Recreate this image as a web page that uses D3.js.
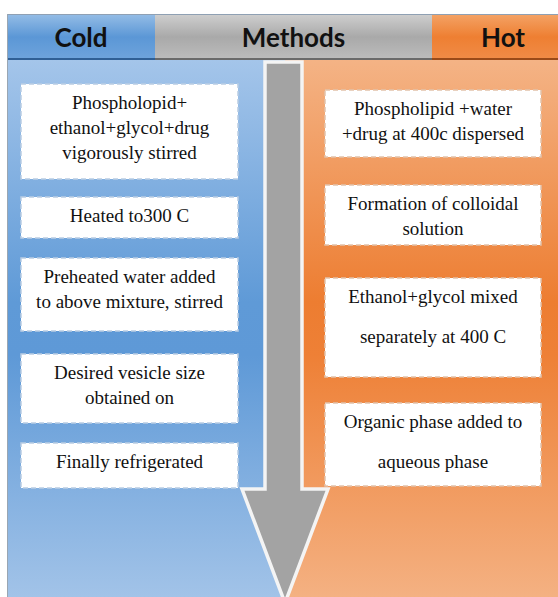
<!DOCTYPE html>
<html>
<head>
<meta charset="utf-8">
<script src="https://cdn.jsdelivr.net/npm/d3@7"></script>
<style>
  html, body { margin: 0; padding: 0; background: #fff; }
  svg { display: block; }
</style>
</head>
<body>
<div id="chart"></div>
<script>
// header labels
const headers = ["Cold", "Methods", "Hot"];

// steps of each method, one entry per box, lines split with "|"
const coldSteps = [
  "Phospholopid+|ethanol+glycol+drug|vigorously stirred",
  "Heated to300 C",
  "Preheated water added|to above mixture, stirred",
  "Desired vesicle size|obtained on",
  "Finally refrigerated"
];
const hotSteps = [
  "Phospholipid +water|+drug at 400c dispersed",
  "Formation of colloidal|solution",
  "Ethanol+glycol mixed|separately at 400 C",
  "Organic phase added to|aqueous phase"
];

// layout (pixels)
const W = 558, H = 597;
const headTop = 14, headBot = 60;
const headEdges = [8, 155, 432, 558];
const mid = 285;
const coldBoxes = [[84, 179], [197, 238], [258, 331], [354, 423], [443, 488]];
const hotBoxes = [[90, 157], [185, 245], [278, 377], [403, 486]];
const hotLineGap = [25, 25, 40, 40];
const serif = "'Liberation Serif', 'DejaVu Serif', serif";

let svg = d3.select("#chart").append("svg")
    .attr("width", W)
    .attr("height", H);

let defs = svg.append("defs");

const addGrad = (id, stops) => {
  let g = defs.append("linearGradient")
      .attr("id", id)
      .attr("x1", 0).attr("y1", 0).attr("x2", 0).attr("y2", 1);
  stops.forEach(s => g.append("stop").attr("offset", s[0]).attr("stop-color", s[1]));
};

addGrad("gBlue", [[0, "#a4c5ea"], [0.45, "#5f9ad7"], [0.55, "#5e99d7"], [1, "#a2c3e8"]]);
addGrad("gOrange", [[0, "#f4b385"], [0.45, "#ed7d31"], [0.55, "#ee8036"], [1, "#f4b182"]]);
addGrad("hBlue", [[0, "#95bde6"], [0.5, "#5b97d6"], [1, "#6fa4dc"]]);
addGrad("hGray", [[0, "#cfcfcf"], [0.5, "#a9a9a9"], [1, "#bdbdbd"]]);
addGrad("hOrange", [[0, "#f4a366"], [0.5, "#ee7f32"], [1, "#f08c48"]]);

// body panels
svg.append("rect")
    .attr("x", headEdges[0]).attr("y", headBot)
    .attr("width", mid - headEdges[0]).attr("height", H - headBot)
    .attr("fill", "url(#gBlue)");
svg.append("rect")
    .attr("x", mid).attr("y", headBot)
    .attr("width", W - mid).attr("height", H - headBot)
    .attr("fill", "url(#gOrange)");
svg.append("line")
    .attr("x1", headEdges[0] - 0.5).attr("x2", headEdges[0] - 0.5)
    .attr("y1", headTop).attr("y2", H)
    .attr("stroke", "#9aa6b2").attr("stroke-width", 1);

// header segments
const headFill = ["url(#hBlue)", "url(#hGray)", "url(#hOrange)"];
const headLine = ["#2f5f95", "#6a6a6a", "#9a4a18"];
let hx = d3.scaleOrdinal().domain(headers).range(headers.map((d, i) => i));

let hg = svg.selectAll(".hseg").data(headers).enter().append("g").attr("class", "hseg");
hg.append("rect")
    .attr("x", d => headEdges[hx(d)])
    .attr("y", headTop)
    .attr("width", d => headEdges[hx(d) + 1] - headEdges[hx(d)])
    .attr("height", headBot - headTop)
    .attr("fill", d => headFill[hx(d)]);
hg.append("line")
    .attr("x1", d => headEdges[hx(d)])
    .attr("x2", d => headEdges[hx(d) + 1])
    .attr("y1", headBot - 1).attr("y2", headBot - 1)
    .attr("stroke", d => headLine[hx(d)]).attr("stroke-width", 2);
hg.append("text")
    .attr("font-family", "Lato, 'Open Sans', sans-serif")
    .attr("font-weight", "bold")
    .attr("font-size", 26)
    .attr("fill", "#111")
    .attr("text-anchor", "middle")
    .attr("x", d => (headEdges[hx(d)] + headEdges[hx(d) + 1]) / 2 + [-0.5, 0, 8][hx(d)])
    .attr("y", 47)
    .text(d => d);
svg.append("line")
    .attr("x1", headEdges[0]).attr("x2", W)
    .attr("y1", headTop + 0.5).attr("y2", headTop + 0.5)
    .attr("stroke", "#8fa0b3").attr("stroke-width", 1);

// arrow
const arrowPts = [
  [265, headBot + 2], [302, headBot + 2], [302, 489], [328, 489],
  [285, H + 6], [242, 489], [265, 489]
];
svg.append("path")
    .attr("d", d3.line()(arrowPts) + "Z")
    .attr("fill", "#a3a3a3")
    .attr("stroke", "#f4f4f4")
    .attr("stroke-width", 3.5)
    .attr("stroke-linejoin", "miter");

// step boxes
const drawBoxes = (steps, boxes, x0, x1, gaps, dash) => {
  let g = svg.selectAll(null).data(steps).enter().append("g");
  g.append("rect")
      .attr("x", x0).attr("y", (d, i) => boxes[i][0])
      .attr("width", x1 - x0).attr("height", (d, i) => boxes[i][1] - boxes[i][0])
      .attr("fill", "#ffffff")
      .attr("stroke", dash)
      .attr("stroke-width", 1.5)
      .attr("stroke-dasharray", "5,3");
  g.each(function(d, i) {
    let lines = d.split("|");
    d3.select(this).selectAll("text").data(lines).enter().append("text")
        .attr("font-family", serif)
        .attr("font-size", 19)
        .attr("fill", "#111")
        .attr("text-anchor", "middle")
        .attr("x", (x0 + x1) / 2)
        .attr("y", (l, j) => boxes[i][0] + 25 + j * gaps[i])
        .text(l => l);
  });
};

drawBoxes(coldSteps, coldBoxes, 21, 238, coldSteps.map(() => 25), "#b9cde4");
drawBoxes(hotSteps, hotBoxes, 325, 541, hotLineGap, "#e2c2aa");
</script>
</body>
</html>
